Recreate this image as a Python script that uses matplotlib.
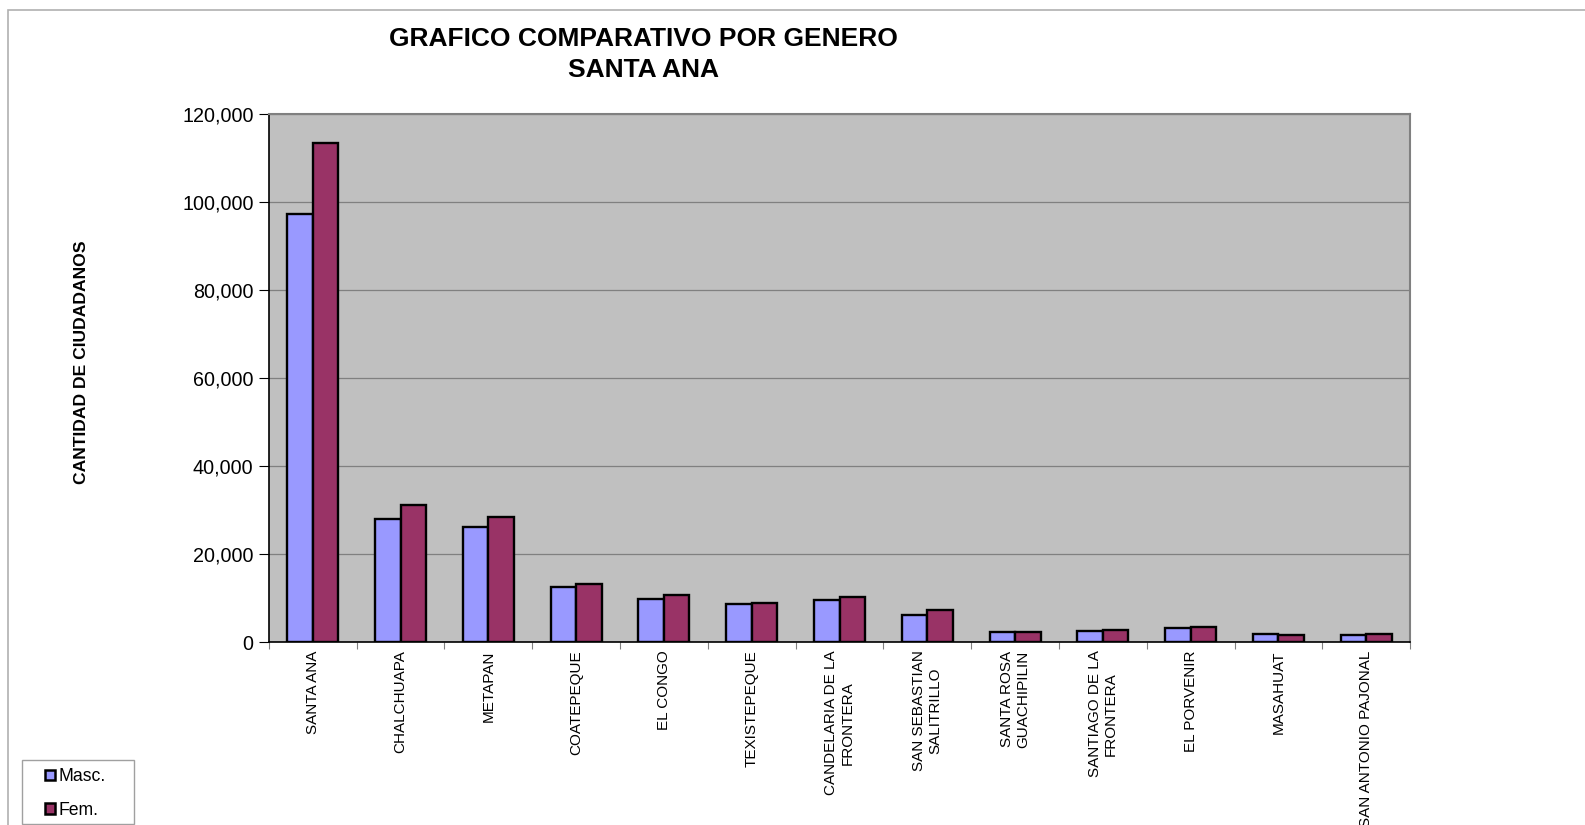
import numpy as np
import matplotlib.pyplot as plt
from matplotlib.patches import Rectangle
from matplotlib.ticker import FuncFormatter

plt.rcParams['font.family'] = ['Liberation Sans', 'DejaVu Sans']

municipios = ['SANTA ANA', 'CHALCHUAPA', 'METAPAN', 'COATEPEQUE', 'EL CONGO',
              'TEXISTEPEQUE', 'CANDELARIA DE LA\nFRONTERA', 'SAN SEBASTIAN\nSALITRILLO',
              'SANTA ROSA\nGUACHIPILIN', 'SANTIAGO DE LA\nFRONTERA', 'EL PORVENIR',
              'MASAHUAT', 'SAN ANTONIO PAJONAL']
masc = [97280, 28050, 26200, 12450, 9740, 8680, 9580, 6190, 2190, 2490, 3250, 1810, 1510]
fem = [113360, 31040, 28500, 13200, 10720, 8830, 10340, 7320, 2260, 2640, 3320, 1660, 1740]

# layout measured on a 1568 x 816 view of the reference
W, H = 1568.0, 816.0
def fx(px):
    return px / W
def fy(py):
    return 1 - py / H

fig = plt.figure(figsize=(15.85, 8.25), dpi=100)

# chart border (grey line at top and left)
fig.patches.append(Rectangle((fx(8), -0.1), 1.2, fy(10) + 0.1,
                             transform=fig.transFigure, fill=False,
                             edgecolor='#b0b0b0', linewidth=1.2))

ax = fig.add_axes([fx(266), fy(635), fx(1395) - fx(266), fy(113) - fy(635)])
ax.set_facecolor('#c0c0c0')

x = np.arange(len(municipios))
w = 0.29
ax.bar(x - w/2, masc, w, color='#9999ff', edgecolor='black', linewidth=1.7, label='Masc.', zorder=3)
ax.bar(x + w/2, fem, w, color='#993366', edgecolor='black', linewidth=1.7, label='Fem.', zorder=3)

ax.set_xlim(-0.5, len(municipios) - 0.5)
ax.set_ylim(0, 120000)
ax.set_yticks(np.arange(0, 120001, 20000))
ax.yaxis.set_major_formatter(FuncFormatter(lambda v, p: f'{int(v):,}'))
ax.grid(axis='y', color='#808080', linewidth=0.9, zorder=1)
ax.tick_params(axis='y', labelsize=14.2, length=7, width=0.8, pad=4)

ax.set_xticks(np.arange(-0.5, len(municipios), 1))
ax.set_xticklabels([])
ax.tick_params(axis='x', length=5, width=0.8, color='#808080')
for i, name in enumerate(municipios):
    ax.text(i, -1900, name, rotation=90, ha='center', va='top', multialignment='center',
            fontsize=11)

for s in ['left', 'bottom']:
    ax.spines[s].set_color('black')
    ax.spines[s].set_linewidth(1.2)
for s in ['top', 'right']:
    ax.spines[s].set_color('#808080')
    ax.spines[s].set_linewidth(1.5)

fig.text(fx(637), fy(39), 'GRAFICO COMPARATIVO POR GENERO', ha='center', va='center',
         fontsize=19.0, fontweight='bold')
fig.text(fx(637), fy(69), 'SANTA ANA', ha='center', va='center',
         fontsize=19.0, fontweight='bold')
fig.text(fx(81), fy(358), 'CANTIDAD DE CIUDADANOS', rotation=90, ha='center', va='center',
         fontsize=12.6, fontweight='bold')

# legend frame drawn by hand, entries placed inside it
fig.patches.append(Rectangle((fx(22), fy(815)), fx(133) - fx(22), fy(752) - fy(815),
                             transform=fig.transFigure, facecolor='white',
                             edgecolor='#a0a0a0', linewidth=1.0))
leg = fig.legend(loc='center left', bbox_to_anchor=(fx(45), fy(785)),
                 fontsize=12.7, frameon=False, handlelength=0.55,
                 handleheight=0.55, handletextpad=0.2, borderpad=0, labelspacing=0.95,
                 borderaxespad=0)
for h in leg.legend_handles:
    h.set_linewidth(1.8)

fig.savefig('out.png', dpi=100)
